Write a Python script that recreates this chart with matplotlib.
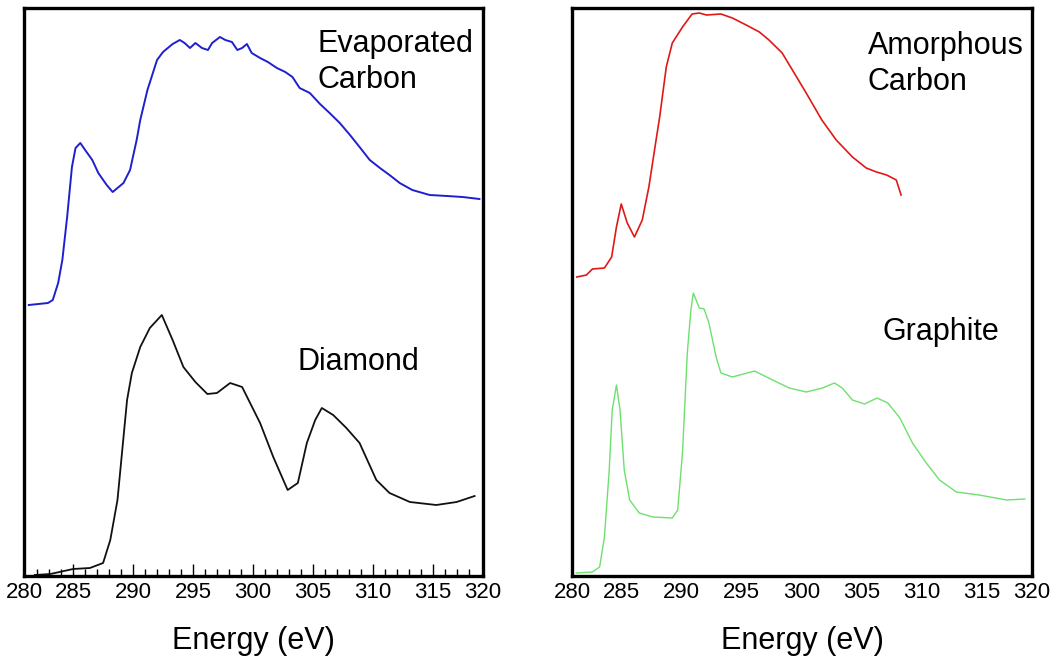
import matplotlib
matplotlib.use("Agg")
import matplotlib.pyplot as plt
import numpy as np

plt.rcParams['font.family'] = ['Liberation Sans', 'DejaVu Sans']

# ---- data (energy in eV, intensity in arbitrary units) ----
evap_E = [281.3, 282.9, 283.3, 283.75, 284.1, 284.5, 284.9, 285.2, 285.6, 286.0,
          286.6, 287.1, 287.8, 288.3, 289.2, 289.75, 290.3, 290.6, 291.2, 292.0,
          292.5, 293.3, 293.9, 294.3, 294.75, 295.2, 295.75, 296.25, 296.6, 297.25,
          297.7, 298.25, 298.7, 299.1, 299.5, 299.9, 300.6, 301.25, 302.0, 302.7,
          303.3, 303.9, 304.75, 305.6, 306.4, 307.25, 308.1, 308.9, 309.75, 310.6,
          311.4, 312.25, 313.3, 314.75, 316.2, 317.5, 318.9]
evap_I = [271, 273, 276, 293, 316, 359, 409, 428, 433, 426,
          416, 403, 391, 384, 393, 406, 436, 456, 486, 516,
          524, 532, 536, 533, 528, 533, 528, 526, 533, 539,
          536, 534, 526, 528, 532, 523, 518, 514, 508, 504,
          499, 488, 483, 472, 463, 453, 441, 429, 416, 408,
          401, 393, 386, 381, 380, 379, 377]

diam_E = [281.8, 283.1, 285.0, 286.4, 287.5, 288.1, 288.7, 289.1, 289.5, 289.9, 290.6, 291.4,
          292.4, 293.3, 294.2, 295.2, 296.2, 297.0, 298.1, 299.1, 300.6, 301.7, 302.9, 303.75,
          304.5, 305.2, 305.75, 306.7, 307.8, 308.9, 310.3, 311.4, 313.1, 315.3, 317.0, 318.5]
diam_I = [1, 2, 7, 8, 13, 36, 76, 126, 176, 203, 229, 248, 261, 236, 209, 194, 182, 183, 193,
          189, 153, 119, 86, 93, 133, 156, 168, 161, 148, 133, 96, 83, 74, 71, 74, 80]

amor_E = [281.3, 282.1, 282.6, 283.6, 284.2, 284.6, 285.0, 285.5, 286.1, 286.75,
          287.3, 287.9, 288.2, 288.75, 289.25, 290.1, 290.9, 291.5, 292.1, 293.3,
          294.25, 295.4, 296.5, 297.3, 298.4, 299.25, 300.4, 301.7, 302.9, 304.25,
          305.4, 306.25, 307.1, 307.9, 308.3]
amor_I = [299, 301, 307, 308, 319, 349, 372, 353, 339, 356,
          389, 436, 459, 509, 533, 549, 562, 563, 561, 562,
          558, 551, 544, 536, 523, 506, 483, 456, 436, 419,
          408, 404, 401, 396, 381]

graph_E = [281.25, 282.6, 283.2, 283.6, 284.0, 284.25, 284.6, 284.9, 285.25, 285.7, 286.5, 287.6,
           289.25, 289.7, 290.1, 290.5, 290.8, 291.0, 291.5, 291.9, 292.3, 292.9, 293.3, 294.25,
           296.1, 297.6, 299.0, 300.4, 301.75, 302.75, 303.4, 304.25, 305.25, 306.3, 307.2,
           308.2, 309.25, 310.4, 311.5, 312.9, 314.8, 317.1, 318.6]
graph_I = [3, 4, 9, 39, 106, 166, 191, 166, 106, 76, 63, 59, 58, 66, 123, 223, 266, 283, 268,
           267, 253, 219, 203, 199, 205, 196, 188, 184, 188, 193, 188, 176, 172, 178, 173, 158,
           133, 113, 96, 84, 81, 76, 77]

tick_labels = ['280', '285', '290', '295', '300', '305', '310', '315', '320']
x_lo, x_hi = 280.9, 319.2
y_lo, y_hi = 0, 568

fig = plt.figure(figsize=(10.52, 6.6), dpi=100)
axL = fig.add_axes([24/1052, 84/660, 459/1052, 568/660])
axR = fig.add_axes([572/1052, 84/660, 460/1052, 568/660])

axL.plot(evap_E, evap_I, color='#1f1fcf', lw=1.4)
axL.plot(diam_E, diam_I, color='#111111', lw=1.3)
axR.plot(amor_E, amor_I, color='#e01818', lw=1.2)
axR.plot(graph_E, graph_I, color='#6ee06e', lw=1.0)

major_pos = [x_lo, 285, 290, 295, 300, 305, 310, 315, x_hi]
for ax in (axL, axR):
    ax.set_xlim(x_lo, x_hi)
    ax.set_ylim(y_lo, y_hi)
    ax.set_yticks([])
    ax.set_xticks(major_pos)
    ax.set_xticklabels(tick_labels, fontsize=16)
    for s in ax.spines.values():
        s.set_linewidth(2.4)
        s.set_color('black')
    ax.set_xlabel('Energy (eV)', fontsize=22, labelpad=17)

axL.set_xticks(np.arange(282, 319, 1), minor=True)
axL.tick_params(axis='x', which='major', direction='in', length=9, width=1.0, pad=4)
axL.tick_params(axis='x', which='minor', direction='in', length=5, width=1.0)
axR.tick_params(axis='x', which='major', length=0, pad=4)

txt = dict(fontsize=22, color='black', ha='left', va='center', linespacing=1.25)
axL.text(0.640, 0.905, 'Evaporated\nCarbon', transform=axL.transAxes, **txt)
axL.text(0.595, 0.377, 'Diamond', transform=axL.transAxes, **txt)
axR.text(0.643, 0.901, 'Amorphous\nCarbon', transform=axR.transAxes, **txt)
axR.text(0.674, 0.430, 'Graphite', transform=axR.transAxes, **txt)

fig.savefig('out.png', dpi=100)
